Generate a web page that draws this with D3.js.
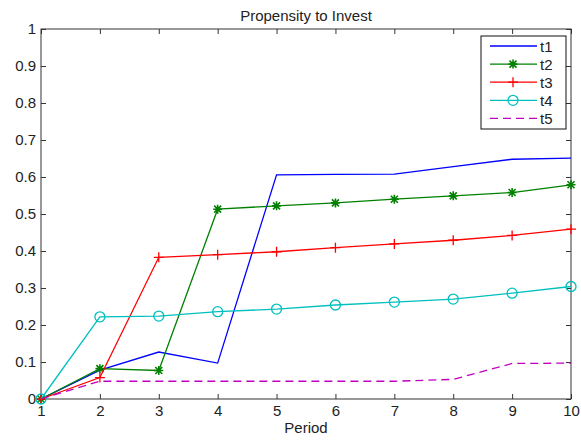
<!DOCTYPE html>
<html>
<head>
<meta charset="utf-8">
<script src="https://cdn.jsdelivr.net/npm/d3@7"></script>
<style>
  body { margin: 0; background: #fff; }
  text { font-family: "Liberation Sans", Arial, sans-serif; fill: #222; }
</style>
</head>
<body>
<svg id="chart" width="581" height="440"></svg>
<script>
const periods = [1, 2, 3, 4, 5, 6, 7, 8, 9, 10];
const t1 = [0, 0.078, 0.127, 0.097, 0.606, 0.607, 0.608, 0.628, 0.648, 0.651];
const t2 = [0, 0.082, 0.077, 0.513, 0.522, 0.530, 0.540, 0.549, 0.558, 0.579];
const t3 = [0, 0.058, 0.383, 0.390, 0.398, 0.409, 0.419, 0.429, 0.442, 0.459];
const t4 = [0, 0.222, 0.224, 0.236, 0.243, 0.254, 0.262, 0.270, 0.286, 0.304];
const t5 = [0, 0.048, 0.048, 0.048, 0.048, 0.048, 0.048, 0.053, 0.096, 0.097];
const yTicks = [0, 0.1, 0.2, 0.3, 0.4, 0.5, 0.6, 0.7, 0.8, 0.9, 1];

const series = [
  { name: "t1", values: t1, color: "#0000ff", marker: "none", dash: null },
  { name: "t2", values: t2, color: "#008000", marker: "star", dash: null },
  { name: "t3", values: t3, color: "#ff0000", marker: "plus", dash: null },
  { name: "t4", values: t4, color: "#00bfbf", marker: "circle", dash: null },
  { name: "t5", values: t5, color: "#bf00bf", marker: "none", dash: "8,5" }
];

const svg = d3.select("#chart");
const plotLeft = 41, plotRight = 571, plotTop = 29, plotBottom = 399;
const fs = 15;

const x = d3.scaleLinear().domain([1, 10]).range([plotLeft, plotRight]);
const y = d3.scaleLinear().domain([0, 1]).range([plotBottom, plotTop]);

// frame
svg.append("rect")
  .attr("x", plotLeft).attr("y", plotTop)
  .attr("width", plotRight - plotLeft).attr("height", plotBottom - plotTop)
  .attr("fill", "none").attr("stroke", "#333").attr("stroke-width", 1);

const axisColor = "#333";
function styleAxis(g) {
  g.select(".domain").remove();
  g.selectAll(".tick line").attr("stroke", axisColor);
  g.selectAll(".tick text").attr("font-size", fs).attr("fill", "#222");
}

svg.append("g").attr("transform", `translate(0,${plotBottom})`)
  .call(d3.axisBottom(x).tickValues(periods).tickFormat(d3.format("d")).tickSizeInner(-5).tickPadding(6))
  .call(styleAxis);
svg.append("g").attr("transform", `translate(0,${plotTop})`)
  .call(d3.axisTop(x).tickValues(periods).tickFormat("").tickSizeInner(-5))
  .call(styleAxis);
svg.append("g").attr("transform", `translate(${plotLeft},0)`)
  .call(d3.axisLeft(y).tickValues(yTicks).tickFormat(d => d === 0 || d === 1 ? String(d) : d3.format(".1f")(d)).tickSizeInner(-5).tickPadding(5))
  .call(styleAxis);
svg.append("g").attr("transform", `translate(${plotRight},0)`)
  .call(d3.axisRight(y).tickValues(yTicks).tickFormat("").tickSizeInner(-5))
  .call(styleAxis);

// lines
const line = d3.line().x((d, i) => x(periods[i])).y(d => y(d));

function drawMarker(g, type, cx, cy, color) {
  if (type === "circle") {
    g.append("circle").attr("cx", cx).attr("cy", cy).attr("r", 5)
      .attr("fill", "none").attr("stroke", color).attr("stroke-width", 1.3);
  } else if (type === "plus") {
    g.append("path").attr("d", `M${cx - 5},${cy}H${cx + 5}M${cx},${cy - 5}V${cy + 5}`)
      .attr("stroke", color).attr("stroke-width", 1.3);
  } else if (type === "star") {
    const s = 4.5, d = 3.5;
    g.append("path")
      .attr("d", `M${cx - s},${cy}H${cx + s}M${cx},${cy - s}V${cy + s}M${cx - d},${cy - d}L${cx + d},${cy + d}M${cx - d},${cy + d}L${cx + d},${cy - d}`)
      .attr("stroke", color).attr("stroke-width", 1.6);
  }
}

const plot = svg.append("g");
series.forEach(s => {
  plot.append("path")
    .attr("d", line(s.values))
    .attr("fill", "none")
    .attr("stroke", s.color)
    .attr("stroke-width", 1.3)
    .attr("stroke-dasharray", s.dash);
  s.values.forEach((v, i) => drawMarker(plot, s.marker, x(periods[i]), y(v), s.color));
});

// legend
const lg = svg.append("g");
lg.append("rect").attr("x", 481).attr("y", 36).attr("width", 85).attr("height", 93)
  .attr("fill", "#fff").attr("stroke", "#111").attr("stroke-width", 1);
series.forEach((s, i) => {
  const ly = 46 + i * 18.1;
  lg.append("line").attr("x1", 490).attr("x2", 537).attr("y1", ly).attr("y2", ly)
    .attr("stroke", s.color).attr("stroke-width", 1.3).attr("stroke-dasharray", s.dash);
  drawMarker(lg, s.marker, 513, ly, s.color);
  lg.append("text").attr("x", 540).attr("y", ly + 5.5).attr("font-size", fs).text(s.name);
});

// title and x label
svg.append("text").attr("x", 306).attr("y", 21).attr("text-anchor", "middle")
  .attr("font-size", fs).text("Propensity to Invest");
svg.append("text").attr("x", 306).attr("y", 433).attr("text-anchor", "middle")
  .attr("font-size", fs).text("Period");
</script>
</body>
</html>
